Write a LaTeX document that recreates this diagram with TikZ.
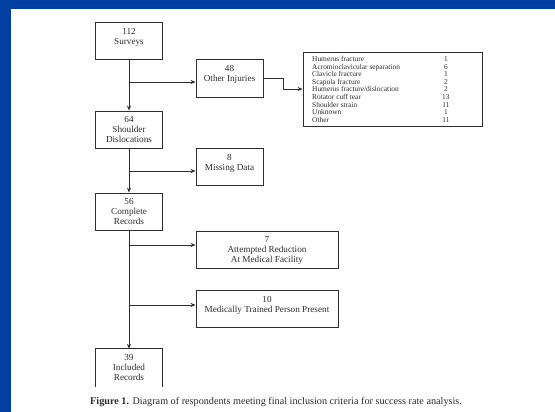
\documentclass[tikz,border=0pt]{standalone}
\usepackage{fontspec}
\setmainfont{Liberation Serif}
\usetikzlibrary{arrows.meta}
\definecolor{slideblue}{RGB}{0,64,160}
\definecolor{ink}{RGB}{45,45,45}
\begin{document}
\begin{tikzpicture}[x=1pt,y=-1pt,
  box/.style={draw=ink, line width=0.8pt, rectangle, inner sep=0},
  lbl/.style={anchor=north, inner sep=0, align=center, text=ink, font=\fontsize{9.2}{10}\selectfont, yshift=-7pt},
  conn/.style={draw=ink, line width=0.8pt, -{Stealth[length=5pt,width=4pt]}},
  trunk/.style={draw=ink, line width=0.8pt}]
\useasboundingbox (0,0) rectangle (555,412);
\fill[white] (0,0) rectangle (555,412);
\fill[slideblue] (0,0) rectangle (555,9);
\fill[slideblue] (0,0) rectangle (11,412);
% left column
\node[box, minimum width=67pt, minimum height=37pt] (surv) at (129,40.5) {};
\node[lbl] (survt) at (surv.north) {112\\Surveys};
\node[box, minimum width=67pt, minimum height=37pt] (shoul) at (129,129.5) {};
\node[lbl, yshift=1.5pt] (shoult) at (shoul.north) {64\\Shoulder\\Dislocations};
\node[box, minimum width=67pt, minimum height=37pt] (compl) at (129,211.5) {};
\node[lbl, yshift=1.5pt] (complt) at (compl.north) {56\\Complete\\Records};
\node[inner sep=0, minimum width=67pt, minimum height=38pt] (incl) at (129,368) {};
\draw[trunk] (incl.south west) -- (incl.north west) -- (incl.north east) -- (incl.south east);
\node[lbl, yshift=1.5pt] (inclt) at (incl.north) {39\\Included\\Records};
% right column
\node[box, minimum width=67pt, minimum height=38pt] (other) at (229.5,78) {};
\node[lbl] (othert) at (other.north) {48\\Other Injuries};
\node[box, minimum width=67pt, minimum height=37pt] (miss) at (229.5,166.5) {};
\node[lbl] (misst) at (miss.north) {8\\Missing Data};
\node[box, minimum width=142pt, minimum height=37pt] (att) at (267,249.5) {};
\node[lbl, yshift=1.5pt] (attt) at (att.north) {7\\Attempted Reduction\\At Medical Facility};
\node[box, minimum width=142pt, minimum height=37pt] (med) at (267,308.5) {};
\node[lbl] (medt) at (med.north) {10\\Medically Trained Person Present};
% table
\node[box, minimum width=179pt, minimum height=74pt] (tab) at (392.5,89) {};
\draw[ink, line width=1.8pt] (tab.north east) -- (tab.south east);
\node[anchor=north west, inner sep=0, text=ink, font=\fontsize{7.4}{7.6}\selectfont] (tabt) at (312,56)
{\begin{tabular}{@{}p{130pt}@{}c@{}}
Humerus fracture & 1\\
Acromioclavicular separation & 6\\
Clavicle fracture & 1\\
Scapula fracture & 2\\
Humerus fracture/dislocation & 2\\
Rotator cuff tear & 13\\
Shoulder strain & 11\\
Unknown & 1\\
Other & 11
\end{tabular}};
% connectors
\draw[conn] (surv.south) -- (shoul.north);
\draw[conn] (shoul.south) -- (compl.north);
\draw[conn] (compl.south) -- (incl.north);
\coordinate (b1) at (129,82);
\coordinate (b2) at (129,171);
\coordinate (b3) at (129,245);
\coordinate (b4) at (129,305);
\draw[conn] (b1) -- (b1 -| other.west);
\draw[conn] (b2) -- (b2 -| miss.west);
\draw[conn] (b3) -- (b3 -| att.west);
\draw[conn] (b4) -- (b4 -| med.west);
\draw[conn] (other.east) -- ++(20,0) |- (tab.west);
% caption
\node[anchor=base west, inner sep=0, text=ink, font=\fontsize{10.2}{11}\selectfont] (cap) at (90,404)
{\textbf{Figure 1.} Diagram of respondents meeting final inclusion criteria for success rate analysis.};
\end{tikzpicture}
\end{document}
